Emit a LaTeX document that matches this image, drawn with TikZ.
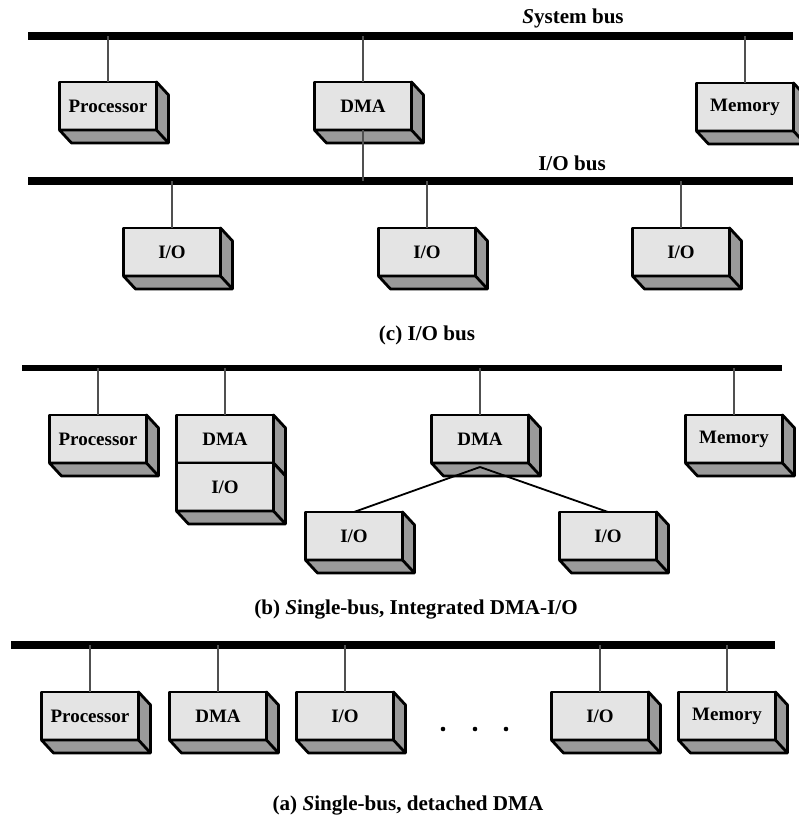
\documentclass[tikz,border=0pt]{standalone}
\usepackage{fontspec}
\setmainfont{Liberation Serif}
\usetikzlibrary{calc}

\definecolor{unitfront}{HTML}{E4E4E4}
\definecolor{unitside}{HTML}{9A9A9A}
\definecolor{tapline}{HTML}{505050}

% a module: front face with shaded right and bottom faces
\newcommand{\slab}[3]{%
  \node[unit] (#1) at (#2) {#3};
  \filldraw[unitdepth] (#1.south west) -- ++(12,13) -| ($(#1.north east)+(12,13)$)
    -- (#1.north east) -- (#1.south east) -- cycle;
  \draw[unitdepth] (#1.south east) -- ++(12,13);
}

\begin{document}
\begin{tikzpicture}[x=0.025cm, y=-0.025cm,
    unit/.style={draw, fill=unitfront, line width=2pt, line join=round,
      minimum width=2.425cm, minimum height=1.2cm, inner sep=0pt, outer sep=0pt,
      font=\fontsize{13.5}{15}\selectfont\bfseries},
    unitdepth/.style={draw, fill=unitside, line width=2pt, line join=round},
    bus/.style={line width=5.5pt},
    tap/.style={draw=tapline, line width=1.1pt},
    label/.style={font=\fontsize{15}{18}\selectfont\bfseries}]
  \useasboundingbox (0,0) rectangle (798,817);

  % (c) I/O bus
  \coordinate (sysbus) at (28,36);
  \coordinate (sysbusend) at (793,36);
  \coordinate (iobus) at (28,181);
  \coordinate (iobusend) at (793,181);
  \draw[bus] (sysbus) -- (sysbusend);
  \draw[bus] (iobus) -- (iobusend);
  \node[label] (syslabel) at (573,18) {\textit{S}ystem bus};
  \node[label] (iolabel) at (572,163) {I/O bus};

  \slab{procC}{108,106}{Processor}
  \slab{dmaC}{363,106}{DMA}
  \slab{memC}{745,107}{Memory}
  \slab{ioCa}{172,252}{I/O}
  \slab{ioCb}{427,252}{I/O}
  \slab{ioCc}{681,252}{I/O}

  \draw[tap] (procC.north) -- (procC.north |- sysbus);
  \draw[tap] (dmaC.north) -- (dmaC.north |- sysbus);
  \draw[tap] (memC.north) -- (memC.north |- sysbus);
  \draw[tap] (dmaC.south) -- (dmaC.south |- iobus);
  \draw[tap] (ioCa.north) -- (ioCa.north |- iobus);
  \draw[tap] (ioCb.north) -- (ioCb.north |- iobus);
  \draw[tap] (ioCc.north) -- (ioCc.north |- iobus);

  \node[label] (capC) at (427,335) {(c) I/O bus};

  % (b) single bus, integrated DMA-I/O
  \coordinate (busB) at (22,368);
  \coordinate (busBend) at (782,368);
  \draw[bus, line width=4pt] (busB) -- (busBend);

  \slab{procB}{98,439}{Processor}
  \slab{dmaBa}{225,439}{DMA}
  \slab{ioBa}{225,487}{I/O}
  \slab{dmaBb}{480,439}{DMA}
  \slab{memB}{734,439}{Memory}
  \slab{ioBb}{354,536}{I/O}
  \slab{ioBc}{608,536}{I/O}

  \draw[tap] (procB.north) -- (procB.north |- busB);
  \draw[tap] (dmaBa.north) -- (dmaBa.north |- busB);
  \draw[tap] (dmaBb.north) -- (dmaBb.north |- busB);
  \draw[tap] (memB.north) -- (memB.north |- busB);
  \coordinate (fork) at ($(dmaBb.south)+(0,4)$);
  \draw[tap, line width=1.3pt, draw=black] (fork) -- (ioBb.north);
  \draw[tap, line width=1.3pt, draw=black] (fork) -- (ioBc.north);

  \node[label] (capB) at (416,610) {(b) \textit{S}ingle-bus, Integrated DMA-I/O};

  % (a) single bus, detached DMA
  \coordinate (busA) at (11,645);
  \coordinate (busAend) at (775,645);
  \draw[bus, line width=5pt] (busA) -- (busAend);

  \slab{procA}{90,716}{Processor}
  \slab{dmaA}{218,716}{DMA}
  \slab{ioAa}{345,716}{I/O}
  \slab{ioAb}{600,716}{I/O}
  \slab{memA}{727,716}{Memory}

  \draw[tap] (procA.north) -- (procA.north |- busA);
  \draw[tap] (dmaA.north) -- (dmaA.north |- busA);
  \draw[tap] (ioAa.north) -- (ioAa.north |- busA);
  \draw[tap] (ioAb.north) -- (ioAb.north |- busA);
  \draw[tap] (memA.north) -- (memA.north |- busA);
  \fill (443,729) circle (2.3) (475,729) circle (2.3) (506,729) circle (2.3);

  \node[label] (capA) at (408,805) {(a) \textit{S}ingle-bus, detached DMA};
\end{tikzpicture}
\end{document}
